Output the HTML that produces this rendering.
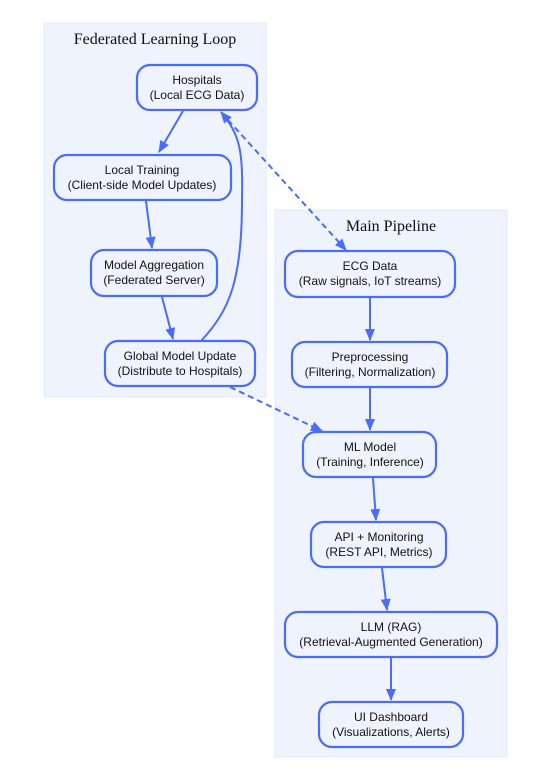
<!DOCTYPE html>
<html><head><meta charset="utf-8"><style>
html,body{margin:0;padding:0;background:#fff;}
svg{display:block;}
text{font-family:"Liberation Sans",Arial,sans-serif;font-size:12px;fill:#111;}
.t{font-family:"Liberation Serif",serif;font-size:16px;}
.n{fill:#eff3fe;stroke:#4a6cf7;stroke-width:2.2;}
.e{stroke:#4a6cf7;stroke-width:2;fill:none;}
.d{stroke-dasharray:6,4;}
</style></head><body>
<svg width="553" height="775" viewBox="0 0 553 775" xmlns="http://www.w3.org/2000/svg">
<defs><marker id="a" viewBox="0 0 12 10" refX="11" refY="5" markerWidth="12" markerHeight="10" orient="auto" markerUnits="userSpaceOnUse"><path d="M0,0 L12,5 L0,10 z" fill="#4a6cf7"/></marker></defs>
<rect x="44" y="23" width="222" height="374" fill="#eef3fe" stroke="#e0e8fb"/>
<rect x="275" y="210" width="232" height="547" fill="#eef3fe" stroke="#e0e8fb"/>
<text class="t" x="155" y="44" text-anchor="middle">Federated Learning Loop</text>
<text class="t" x="391" y="231" text-anchor="middle">Main Pipeline</text>

<g>
<rect class="n" x="137" y="65" width="120" height="45" rx="13"/>
<text x="197" y="84" text-anchor="middle">Hospitals</text><text x="197" y="99" text-anchor="middle">(Local ECG Data)</text>
<rect class="n" x="54" y="155" width="177" height="45" rx="13"/>
<text x="142" y="174" text-anchor="middle">Local Training</text><text x="142" y="189" text-anchor="middle">(Client-side Model Updates)</text>
<rect class="n" x="91" y="250" width="126" height="46" rx="13"/>
<text x="154" y="269" text-anchor="middle">Model Aggregation</text><text x="154" y="284" text-anchor="middle">(Federated Server)</text>
<rect class="n" x="105" y="341" width="150" height="45" rx="13"/>
<text x="180" y="360" text-anchor="middle">Global Model Update</text><text x="180" y="375" text-anchor="middle">(Distribute to Hospitals)</text>
<rect class="n" x="285" y="251" width="170" height="46" rx="13"/>
<text x="370" y="270" text-anchor="middle">ECG Data</text><text x="370" y="285" text-anchor="middle">(Raw signals, IoT streams)</text>
<rect class="n" x="292" y="342" width="155" height="45" rx="13"/>
<text x="370" y="361" text-anchor="middle">Preprocessing</text><text x="370" y="376" text-anchor="middle">(Filtering, Normalization)</text>
<rect class="n" x="303" y="432" width="133" height="45" rx="13"/>
<text x="370" y="451" text-anchor="middle">ML Model</text><text x="370" y="466" text-anchor="middle">(Training, Inference)</text>
<rect class="n" x="311" y="522" width="135" height="45" rx="13"/>
<text x="379" y="541" text-anchor="middle">API + Monitoring</text><text x="379" y="556" text-anchor="middle">(REST API, Metrics)</text>
<rect class="n" x="285" y="612" width="212" height="45" rx="13"/>
<text x="391" y="631" text-anchor="middle">LLM (RAG)</text><text x="391" y="646" text-anchor="middle">(Retrieval-Augmented Generation)</text>
<rect class="n" x="319" y="702" width="144" height="45" rx="13"/>
<text x="391" y="721" text-anchor="middle">UI Dashboard</text><text x="391" y="736" text-anchor="middle">(Visualizations, Alerts)</text>
</g>

<g>
<path class="e" d="M183,111 L159,152" marker-end="url(#a)"/>
<path class="e" d="M146,201 L152,248" marker-end="url(#a)"/>
<path class="e" d="M162,297 L173,339" marker-end="url(#a)"/>
<path class="e" d="M201,341 C230,310 242,280 242,200 C243,150 240,135 221,112" marker-end="url(#a)"/>
<path class="e d" d="M228,120 L346,250" marker-end="url(#a)"/>
<path class="e d" d="M230,387 L322,431" marker-end="url(#a)"/>
<path class="e" d="M370,297 L370,340" marker-end="url(#a)"/>
<path class="e" d="M370,388 L370,430" marker-end="url(#a)"/>
<path class="e" d="M373,478 L376,520" marker-end="url(#a)"/>
<path class="e" d="M382,568 L387,610" marker-end="url(#a)"/>
<path class="e" d="M391,658 L391,700" marker-end="url(#a)"/>
</g>
</svg>
</body></html>
